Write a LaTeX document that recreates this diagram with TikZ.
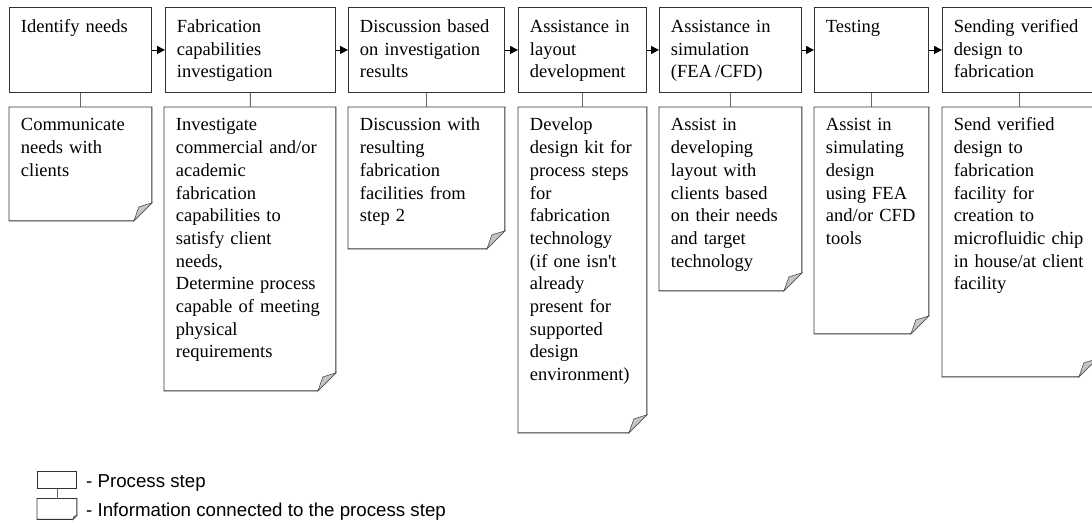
\documentclass[tikz,border=0pt]{standalone}
\usepackage{fontspec}
\setmainfont{Liberation Serif}
\newfontfamily\legendfont{Liberation Sans}
\usetikzlibrary{arrows.meta}
\tikzset{
  stepbox/.style={draw=black!80,line width=0.9pt,anchor=north west,align=left,
    inner xsep=11.5pt,inner ysep=0pt,text height=25pt,text depth=60pt,
    font=\fontsize{18.5}{22.7}\selectfont},
  notebox/.style={stepbox,draw=none,text height=23.5pt},
  legbox/.style={draw=black!80,line width=0.9pt,anchor=north west,
    inner sep=0pt,text height=0pt,text depth=0pt,minimum width=39pt,minimum height=17pt},
  legtext/.style={anchor=base west,inner sep=0pt,font=\legendfont\fontsize{18.7}{22}\selectfont},
  noteline/.style={draw=black!80,line width=0.9pt},
  foldcorner/.style={fill=gray!45,draw=black!70,line width=0.6pt},
  link/.style={draw=black!60,line width=0.9pt},
}
\begin{document}
\begin{tikzpicture}[x=1pt,y=-1pt]
\useasboundingbox (0,0) rectangle (1092,522);
\clip (0,0) rectangle (1092,522);
% process steps
\node(s1) at (9,7)[stepbox,text width=119pt]        {Identify needs};
\node(s2) at (165,7)[stepbox,text width=147pt]      {Fabrication\\capabilities\\investigation};
\node(s3) at (348,7)[stepbox,text width=133pt]      {Discussion based\\on investigation\\results};
\node(s4) at (518,7)[stepbox,text width=105pt]      {Assistance in\\layout\\development};
\node(s5) at (659,7)[stepbox,text width=119pt]      {Assistance in\\simulation\\(FEA\,/CFD)};
\node(s6) at (814,7)[stepbox,text width=91pt]       {Testing};
\node(s7) at (942,7)[stepbox,text width=131pt]      {Sending verified\\design to\\fabrication};
% information
\node(n1) at (9,107)[notebox,text width=119pt,text depth=89.5pt]
  {Communicate\\needs with\\clients};
\node(n2) at (164,107)[notebox,text width=148pt,text depth=259.5pt]
  {Investigate\\commercial and/or\\academic\\fabrication\\capabilities to\\satisfy client\\needs,\\Determine process\\capable of meeting\\physical\\requirements};
\node(n3) at (348,107)[notebox,text width=133pt,text depth=117.5pt]
  {Discussion with\\resulting\\fabrication\\facilities from\\step 2};
\node(n4) at (518,107)[notebox,text width=105pt,text depth=301.5pt]
  {Develop\\design kit for\\process steps\\for\\fabrication\\technology\\(if one isn\textquotesingle t\\already\\present for\\supported\\design\\environment)};
\node(n5) at (659,107)[notebox,text width=119pt,text depth=159.5pt]
  {Assist in\\developing\\layout with\\clients based\\on their needs\\and target\\technology};
\node(n6) at (814,107)[notebox,text width=91pt,text depth=202.5pt]
  {Assist in\\simulating\\design\\using FEA\\and/or CFD\\tools};
\node(n7) at (942,107)[notebox,text width=131pt,text depth=245.5pt]
  {Send verified\\design to\\fabrication\\facility for\\creation to\\microfluidic chip\\in house/at client\\facility};
% legend
\node(l1) at (37,471)[legbox] {};
\node(l2) at (37,498.5)[legbox,draw=none,minimum height=20pt] {};
\node(lt1) at (86,487.3)[legtext] {- Process step};
\node(lt2) at (86,516)[legtext] {- Information connected to the process step};
% dog-eared notes
\foreach \n/\a/\b/\c in {n1/18/13/14,n2/18/13/14,n3/18/13/14,n4/18/13/14,
    n5/18/13/14,n6/18/13/14,n7/18/13/14,l2/4/3/3}{
  \draw[noteline] (\n.north west) -- (\n.north east) -- ([yshift=\a pt]\n.south east)
    -- ([xshift=-\a pt]\n.south east) -- (\n.south west) -- cycle;
  \filldraw[foldcorner] ([yshift=\a pt]\n.south east) -- ([xshift=-\b pt,yshift=\c pt]\n.south east)
    -- ([xshift=-\a pt]\n.south east) -- cycle;
}
\path [-{Triangle[length=8pt,width=8pt]},draw=black,line width=0.9pt]
  (s1)      edge      (s2)
  (s2)      edge      (s3)
  (s3)      edge      (s4)
  (s4)      edge      (s5)
  (s5)      edge      (s6)
  (s6)      edge      (s7);
\path [link]
  (s1) edge (n1)  (s2) edge (n2)  (s3) edge (n3)  (s4) edge (n4)
  (s5) edge (n5)  (s6) edge (n6)  (s7) edge (n7)  (l1) edge (l2);
\end{tikzpicture}
\end{document}
